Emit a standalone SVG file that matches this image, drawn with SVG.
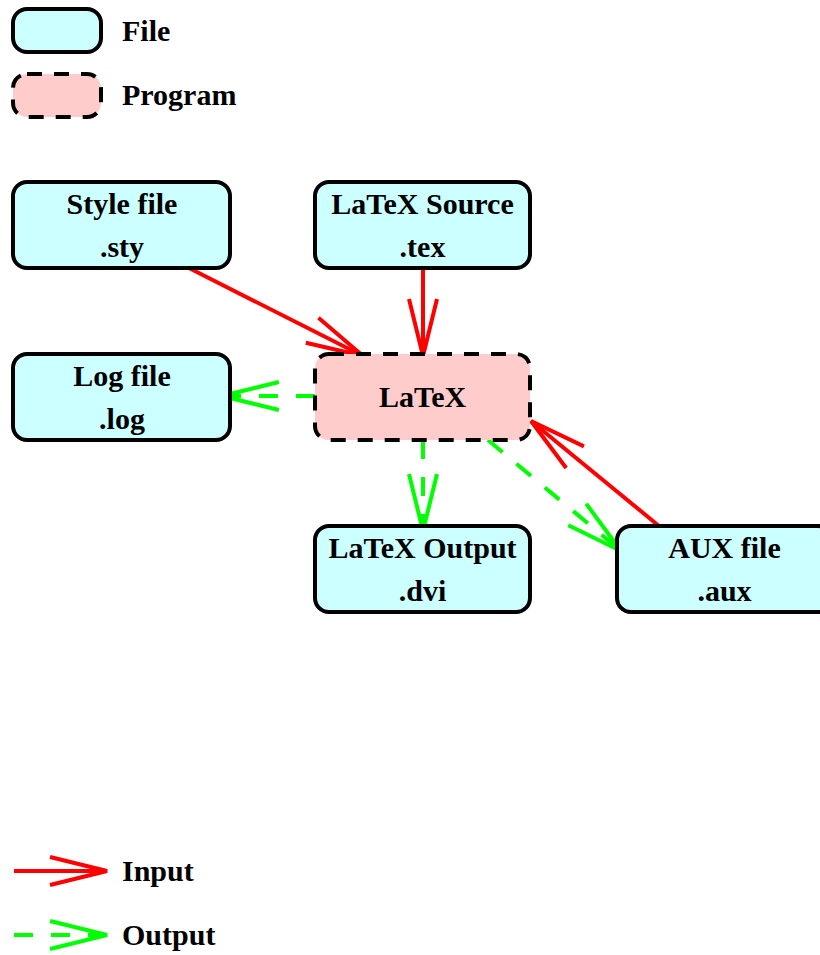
<svg xmlns="http://www.w3.org/2000/svg" width="820" height="955" viewBox="0 0 820 955">
<defs>
<style>
.file{fill:#ccffff;stroke:#000;stroke-width:4}
.prog{fill:#ffcccc;stroke:#000;stroke-width:4;stroke-dasharray:15 12}
.t{font-family:"Liberation Serif","Times New Roman",serif;font-weight:bold;font-size:30px;fill:#000}
.c{text-anchor:middle}
.in{stroke:#ff0000;stroke-width:4;fill:none}
.out{stroke:#00ff00;stroke-width:4;fill:none;stroke-dasharray:19 18}
</style>
<marker id="ah-in" markerUnits="userSpaceOnUse" orient="auto" refX="0" refY="0" markerWidth="10" markerHeight="10" overflow="visible">
<path d="M-57,-14 L0,0 L-57,14" fill="none" stroke="#ff0000" stroke-width="4"/>
</marker>
<marker id="ah-out" markerUnits="userSpaceOnUse" orient="auto" refX="0" refY="0" markerWidth="10" markerHeight="10" overflow="visible">
<path d="M-57,-14 L0,0 L-57,14" fill="none" stroke="#00ff00" stroke-width="4"/>
</marker>
</defs>
<rect width="820" height="955" fill="#fff"/>
<g id="legend">
<rect class="file" x="13" y="9" width="88" height="43" rx="14"/>
<text class="t" x="122" y="41">File</text>
<rect class="prog" x="13" y="74" width="88" height="43" rx="14"/>
<text class="t" x="122" y="105">Program</text>
<line class="in" x1="14" y1="871" x2="107" y2="871" marker-end="url(#ah-in)"/>
<text class="t" x="122" y="881">Input</text>
<line class="out" x1="14" y1="935" x2="107" y2="935" marker-end="url(#ah-out)"/>
<text class="t" x="122" y="945">Output</text>
</g>
<g id="connectors">
<line class="in" x1="187" y1="267" x2="363" y2="356" marker-end="url(#ah-in)"/>
<line class="in" x1="423" y1="268" x2="423" y2="356" marker-end="url(#ah-in)"/>
<line class="in" x1="659" y1="526" x2="531" y2="421" marker-end="url(#ah-in)"/>
<line class="out" x1="315" y1="396" x2="222" y2="396" marker-end="url(#ah-out)"/>
<line class="out" x1="423" y1="440" x2="423" y2="531" marker-end="url(#ah-out)"/>
<line class="out" x1="488" y1="440" x2="621" y2="551" marker-end="url(#ah-out)"/>
</g>
<g id="style-file">
<rect class="file" x="13" y="182" width="217" height="86" rx="14"/>
<text class="t c" x="122" y="214">Style file</text>
<text class="t c" x="122" y="257">.sty</text>
</g>
<g id="latex-source">
<rect class="file" x="315" y="182" width="215" height="86" rx="14"/>
<text class="t c" x="422.5" y="214">LaTeX Source</text>
<text class="t c" x="422.5" y="257">.tex</text>
</g>
<g id="log-file">
<rect class="file" x="13" y="354" width="217" height="86" rx="14"/>
<text class="t c" x="122" y="386">Log file</text>
<text class="t c" x="122" y="429">.log</text>
</g>
<g id="latex">
<rect class="prog" x="315" y="354" width="215" height="86" rx="14"/>
<text class="t c" x="422.5" y="407">LaTeX</text>
</g>
<g id="latex-output">
<rect class="file" x="315" y="526" width="215" height="86" rx="14"/>
<text class="t c" x="422.5" y="558">LaTeX Output</text>
<text class="t c" x="422.5" y="601">.dvi</text>
</g>
<g id="aux-file">
<rect class="file" x="617" y="526" width="215" height="86" rx="14"/>
<text class="t c" x="724.5" y="558">AUX file</text>
<text class="t c" x="724.5" y="601">.aux</text>
</g>
</svg>
